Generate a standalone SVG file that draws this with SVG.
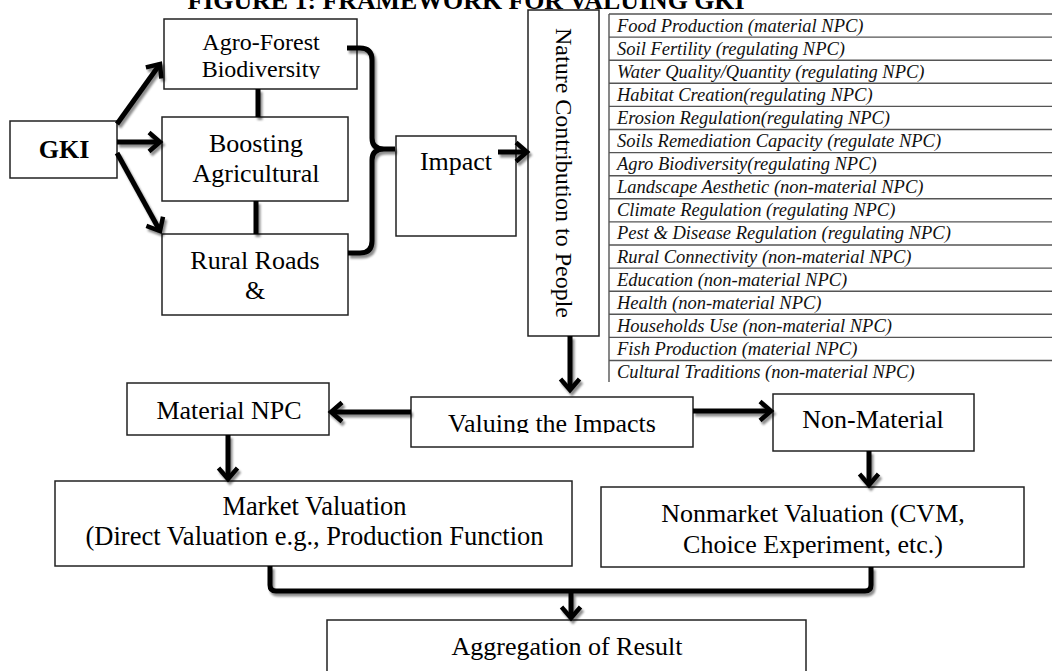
<svg xmlns="http://www.w3.org/2000/svg" width="1052" height="671" viewBox="0 0 1052 671">
<style>
.box{fill:#fff;stroke:#222;stroke-width:1.5}
.t{font-family:"Liberation Serif","Times New Roman",serif;font-size:26px;fill:#000;text-anchor:middle}
.b{font-weight:bold}
.li{font-family:"Liberation Serif","Times New Roman",serif;font-size:18.5px;font-style:italic;fill:#111}
.row{stroke:#555;stroke-width:1.4}
.c{fill:none;stroke:#000;stroke-width:5}
.a{marker-end:url(#arr)}
</style>
<defs>
<marker id="arr" markerUnits="userSpaceOnUse" viewBox="0 0 14 22" markerWidth="14" markerHeight="22" refX="12" refY="11" orient="auto" overflow="visible">
<path d="M1,1.5 L12,11 L1,20.5" fill="none" stroke="#000" stroke-width="4.5"/>
</marker>
<filter id="sh" x="-10%" y="-10%" width="120%" height="120%">
<feDropShadow dx="2" dy="3" stdDeviation="0.8" flood-color="#000" flood-opacity="0.45"/>
</filter>
<clipPath id="clipAgro"><rect x="164" y="19" width="193" height="60"/></clipPath>
<clipPath id="clipVal"><rect x="411" y="397" width="282" height="36"/></clipPath>
</defs>

<text class="t b" x="466" y="9" textLength="557" lengthAdjust="spacingAndGlyphs">FIGURE 1: FRAMEWORK FOR VALUING GKI</text>

<g id="gki"><rect class="box" x="10" y="121" width="107" height="57"/><text class="t b" x="64" y="158">GKI</text></g>
<g id="agro"><rect class="box" x="164" y="19" width="193" height="70"/><g clip-path="url(#clipAgro)"><text class="t" x="261" y="50" style="font-size:24px">Agro-Forest</text><text class="t" x="261" y="77" style="font-size:24px">Biodiversity</text></g></g>
<g id="boosting"><rect class="box" x="162" y="117" width="186" height="84"/><text class="t" x="256" y="152">Boosting</text><text class="t" x="256" y="182">Agricultural</text></g>
<g id="rural"><rect class="box" x="162" y="234" width="186" height="81"/><text class="t" x="255" y="269">Rural Roads</text><text class="t" x="255" y="299">&amp;</text></g>
<g id="impact"><rect class="box" x="396" y="136" width="120" height="100"/><text class="t" x="456" y="170">Impact</text></g>
<g id="nature"><rect class="box" x="528" y="10" width="71" height="326"/><text class="t" transform="translate(556,173) rotate(90)" x="0" y="0" style="font-size:24px">Nature Contribution to People</text></g>

<g id="npc-list">
<line class="row" x1="609" y1="14" x2="609" y2="382"/>
<line class="row" x1="609" y1="14" x2="1052" y2="14"/>
<line class="row" x1="609" y1="37.1" x2="1052" y2="37.1"/>
<line class="row" x1="609" y1="60.2" x2="1052" y2="60.2"/>
<line class="row" x1="609" y1="83.3" x2="1052" y2="83.3"/>
<line class="row" x1="609" y1="106.4" x2="1052" y2="106.4"/>
<line class="row" x1="609" y1="129.5" x2="1052" y2="129.5"/>
<line class="row" x1="609" y1="152.6" x2="1052" y2="152.6"/>
<line class="row" x1="609" y1="175.7" x2="1052" y2="175.7"/>
<line class="row" x1="609" y1="198.8" x2="1052" y2="198.8"/>
<line class="row" x1="609" y1="221.9" x2="1052" y2="221.9"/>
<line class="row" x1="609" y1="245" x2="1052" y2="245"/>
<line class="row" x1="609" y1="268.1" x2="1052" y2="268.1"/>
<line class="row" x1="609" y1="291.2" x2="1052" y2="291.2"/>
<line class="row" x1="609" y1="314.3" x2="1052" y2="314.3"/>
<line class="row" x1="609" y1="337.4" x2="1052" y2="337.4"/>
<line class="row" x1="609" y1="360.5" x2="1052" y2="360.5"/>
<text class="li" x="617" y="31.5">Food Production (material NPC)</text>
<text class="li" x="617" y="54.6">Soil Fertility (regulating NPC)</text>
<text class="li" x="617" y="77.7">Water Quality/Quantity (regulating NPC)</text>
<text class="li" x="617" y="100.8">Habitat Creation(regulating NPC)</text>
<text class="li" x="617" y="123.9">Erosion Regulation(regulating NPC)</text>
<text class="li" x="617" y="147">Soils Remediation Capacity (regulate NPC)</text>
<text class="li" x="617" y="170.1">Agro Biodiversity(regulating NPC)</text>
<text class="li" x="617" y="193.2">Landscape Aesthetic (non-material NPC)</text>
<text class="li" x="617" y="216.3">Climate Regulation (regulating NPC)</text>
<text class="li" x="617" y="239.4">Pest &amp; Disease Regulation (regulating NPC)</text>
<text class="li" x="617" y="262.5">Rural Connectivity (non-material NPC)</text>
<text class="li" x="617" y="285.6">Education (non-material NPC)</text>
<text class="li" x="617" y="308.7">Health (non-material NPC)</text>
<text class="li" x="617" y="331.8">Households Use (non-material NPC)</text>
<text class="li" x="617" y="354.9">Fish Production (material NPC)</text>
<text class="li" x="617" y="378">Cultural Traditions (non-material NPC)</text>
</g>

<g id="material"><rect class="box" x="127" y="383" width="202" height="52"/><text class="t" x="229" y="419">Material NPC</text></g>
<g id="valuing"><rect class="box" x="411" y="397" width="282" height="50"/><text class="t" x="552" y="432" clip-path="url(#clipVal)">Valuing the Impacts</text></g>
<g id="nonmaterial"><rect class="box" x="773" y="394" width="201" height="57"/><text class="t" x="873" y="428">Non-Material</text></g>
<g id="market"><rect class="box" x="55" y="481" width="517" height="85"/><text class="t" x="314.5" y="515" style="font-size:26.5px">Market Valuation</text><text class="t" x="314.5" y="545" style="font-size:26.5px">(Direct Valuation e.g., Production Function</text></g>
<g id="nonmarket"><rect class="box" x="601" y="487" width="423" height="80"/><text class="t" x="813" y="522">Nonmarket Valuation (CVM,</text><text class="t" x="813" y="553">Choice Experiment, etc.)</text></g>
<g id="aggregation"><rect class="box" x="327" y="620" width="479" height="60"/><text class="t" x="567" y="655">Aggregation of Result</text></g>

<g id="connectors" filter="url(#sh)">
<path class="c a" d="M117,124 L160,64"/>
<path class="c a" d="M117,142 H160"/>
<path class="c a" d="M117,153 L160,231"/>
<path class="c" d="M258,89 V117"/>
<path class="c" d="M256,201 V234"/>
<path class="c" d="M347,48 H360 Q372,48 372,60 V138 Q372,149 384,149 H395 M384,149 Q372,149 372,160 V241 Q372,253 360,253 H348"/>
<path class="c a" d="M498,152 H527"/>
<path class="c a" d="M570,336 V390"/>
<path class="c a" d="M411,412 H331"/>
<path class="c a" d="M693,411 H771"/>
<path class="c a" d="M228,435 V479"/>
<path class="c a" d="M869,451 V485"/>
<path class="c" d="M270,566 V585 Q270,591 276,591 H865 Q871,591 871,585 V567"/>
<path class="c a" d="M571,591 V618"/>
</g>
</svg>
